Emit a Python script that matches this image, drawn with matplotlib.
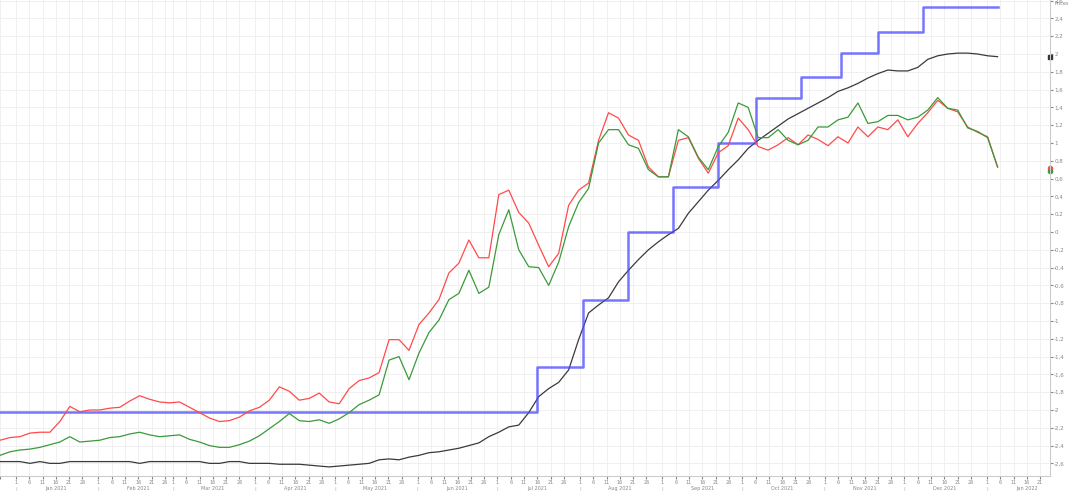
import matplotlib
matplotlib.use('Agg')
import matplotlib.pyplot as plt
import matplotlib.dates as mdates
import matplotlib.transforms as mtransforms
import pandas as pd

# time axis: one sample every ~3.75 days
start = pd.Timestamp('2020-12-26')
dates = pd.date_range(start, periods=101, freq='90h')

# series values
red = [-2.34, -2.31, -2.30, -2.26, -2.25, -2.25, -2.13, -1.96, -2.02, -2.00,
       -2.00, -1.98, -1.97, -1.90, -1.84, -1.88, -1.91, -1.92, -1.91, -1.97,
       -2.03, -2.09, -2.13, -2.12, -2.08, -2.01, -1.97, -1.89, -1.74, -1.79,
       -1.89, -1.87, -1.81, -1.91, -1.93, -1.76, -1.67, -1.64, -1.58, -1.21,
       -1.21, -1.33, -1.04, -0.91, -0.76, -0.46, -0.35, -0.09, -0.29, -0.29,
       0.42, 0.47, 0.22, 0.10, -0.15, -0.39, -0.24, 0.30, 0.47, 0.55,
       1.03, 1.34, 1.28, 1.09, 1.03, 0.73, 0.62, 0.62, 1.03, 1.06,
       0.83, 0.66, 0.89, 0.97, 1.28, 1.15, 0.96, 0.92, 0.98, 1.06,
       0.98, 1.09, 1.04, 0.97, 1.07, 1.00, 1.18, 1.07, 1.18, 1.15,
       1.26, 1.07, 1.22, 1.34, 1.48, 1.39, 1.35, 1.18, 1.12, 1.07,
       0.73]
green = [-2.51, -2.47, -2.45, -2.44, -2.42, -2.39, -2.36, -2.30, -2.36, -2.35,
         -2.34, -2.31, -2.30, -2.27, -2.25, -2.28, -2.30, -2.29, -2.28, -2.33,
         -2.36, -2.40, -2.42, -2.42, -2.39, -2.35, -2.29, -2.21, -2.13, -2.04,
         -2.12, -2.13, -2.11, -2.15, -2.10, -2.03, -1.94, -1.89, -1.83, -1.44,
         -1.40, -1.66, -1.36, -1.13, -0.99, -0.76, -0.69, -0.43, -0.69, -0.62,
         -0.03, 0.25, -0.20, -0.39, -0.40, -0.60, -0.34, 0.06, 0.33, 0.49,
         1.00, 1.15, 1.15, 0.98, 0.94, 0.70, 0.62, 0.62, 1.15, 1.07,
         0.84, 0.70, 0.96, 1.12, 1.45, 1.40, 1.06, 1.06, 1.15, 1.03,
         0.98, 1.03, 1.18, 1.18, 1.26, 1.29, 1.45, 1.22, 1.24, 1.31,
         1.31, 1.26, 1.29, 1.37, 1.51, 1.39, 1.37, 1.17, 1.13, 1.06,
         0.73]
black = [-2.58, -2.58, -2.58, -2.60, -2.58, -2.60, -2.60, -2.58, -2.58, -2.58,
         -2.58, -2.58, -2.58, -2.58, -2.60, -2.58, -2.58, -2.58, -2.58, -2.58,
         -2.58, -2.60, -2.60, -2.58, -2.58, -2.60, -2.60, -2.60, -2.61, -2.61,
         -2.61, -2.62, -2.63, -2.64, -2.63, -2.62, -2.61, -2.60, -2.56, -2.55,
         -2.56, -2.53, -2.51, -2.48, -2.47, -2.45, -2.43, -2.40, -2.37, -2.30,
         -2.25, -2.19, -2.17, -2.03, -1.85, -1.76, -1.69, -1.55, -1.21, -0.91,
         -0.82, -0.74, -0.56, -0.43, -0.31, -0.20, -0.11, -0.03, 0.04, 0.21,
         0.34, 0.47, 0.58, 0.70, 0.81, 0.94, 1.03, 1.11, 1.19, 1.27,
         1.33, 1.39, 1.45, 1.51, 1.58, 1.62, 1.67, 1.73, 1.78, 1.82,
         1.81, 1.81, 1.85, 1.94, 1.98, 2.00, 2.01, 2.01, 2.00, 1.98,
         1.97]
# step series: day offsets of each change and the level after it
blue_days = [0, 202, 219, 236, 253, 270, 284, 301, 316, 330, 347, 375]
blue_vals = [-2.02, -1.52, -0.76, 0.00, 0.51, 1.00, 1.51, 1.74, 2.01, 2.25, 2.53, 2.53]
blue_dates = [start + pd.Timedelta(days=d) for d in blue_days]

x_end = start + pd.Timedelta(days=394.7)

fig = plt.figure(figsize=(10.7, 4.91), dpi=100)
ax = fig.add_axes([0, 15 / 491, 1050 / 1070, 476 / 491])

ax.plot(dates, black, color='#3a3a3a', lw=0.9)
ax.plot(blue_dates, blue_vals, drawstyle='steps-post', color='#4848ff', lw=1.8, alpha=0.75)
ax.plot(dates, red, color='#ff4a4a', lw=0.9)
ax.plot(dates, green, color='#3a9a3a', lw=0.9)

# last-value markers on the axis
ax.plot([x_end], [1.97], 's', color='#333333', ms=3, clip_on=False)
ax.plot([x_end], [0.72], 'o', color='#ff4a4a', ms=3, clip_on=False)
ax.plot([x_end], [0.69], 'o', color='#3a9a3a', ms=3, clip_on=False)

ax.set_xlim(start, x_end)
ax.set_ylim(-2.742, 2.607)

# y axis on the right
ax.yaxis.tick_right()
ax.set_yticks([i / 5 for i in range(-13, 14)])

def ylab(v, pos):
    s = f'{v:.1f}'
    if s.endswith('.0'):
        s = s[:-2]
    if s == '-0':
        s = '0'
    return s.replace('.', ',')

ax.yaxis.set_major_formatter(plt.FuncFormatter(ylab))
ax.tick_params(axis='y', labelsize=4, colors='#888888', length=2, pad=1)

# x axis: every 5 days, day numbers
first_num = mdates.date2num(start) + 1

def xlab(v, pos):
    if v < first_num:
        return ''
    return str(mdates.num2date(v).day)

ax.xaxis.set_major_locator(mdates.DayLocator(bymonthday=[1, 6, 11, 16, 21, 26]))
ax.xaxis.set_major_formatter(plt.FuncFormatter(xlab))
ax.tick_params(axis='x', labelsize=3.5, colors='#888888', length=2, pad=1)

# month labels under the day numbers
trans = mtransforms.blended_transform_factory(ax.transData, ax.transAxes)
months = pd.date_range('2020-12-01', '2022-01-01', freq='MS')
for m in months:
    mid = m + pd.Timedelta(days=15)
    if start + pd.Timedelta(days=8) <= mid <= x_end:
        ax.text(mid, -0.027, m.strftime('%b %Y'), transform=trans, fontsize=3.5,
                color='#888888', ha='center', va='center', clip_on=False)
    if start < m < x_end:
        ax.text(m, -0.027, '|', transform=trans, fontsize=3.5,
                color='#aaaaaa', ha='center', va='center', clip_on=False)

ax.grid(True, color='#f0f0f0', lw=0.7)
ax.set_axisbelow(True)
for s in ['top', 'left']:
    ax.spines[s].set_visible(False)
ax.spines['right'].set_color('#cccccc')
ax.spines['bottom'].set_color('#cccccc')

fig.text(0.992, 0.997, 'Prices', fontsize=3.5, color='#888888', ha='center', va='top')

fig.savefig('out.png', dpi=100)
